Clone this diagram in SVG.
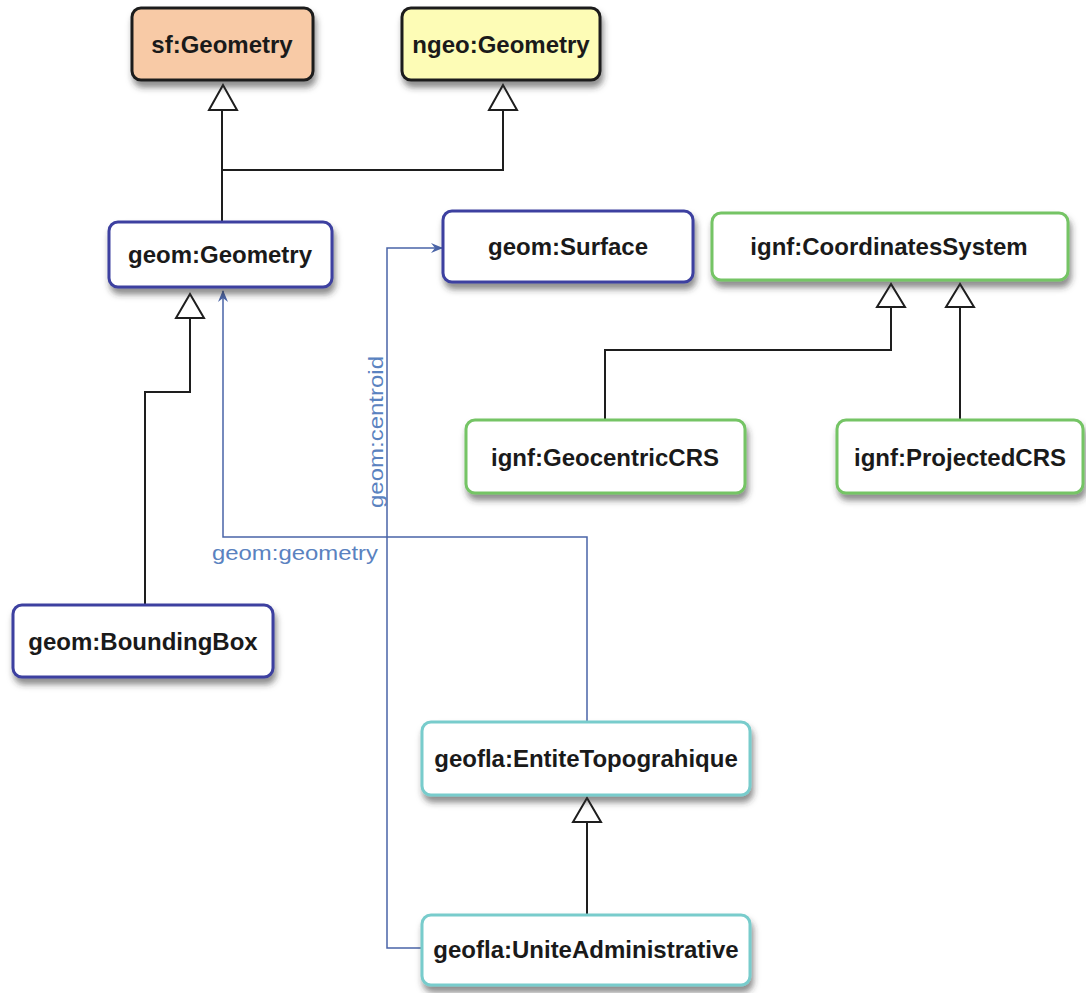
<svg xmlns="http://www.w3.org/2000/svg" width="1086" height="993" viewBox="0 0 1086 993">
<style>
.node rect{stroke-width:3;}
.node text{font-family:"Liberation Sans",Arial,sans-serif;font-weight:bold;font-size:24px;fill:#1a1a1a;text-anchor:middle;}
.blk rect{stroke:#1e1e1e;}
.blue rect{stroke:#3c41a0;fill:#fff;}
.green rect{stroke:#74c465;fill:#fff;}
.teal rect{stroke:#78cccc;fill:#fff;}
.gen{fill:none;stroke:#1e1e1e;stroke-width:2;}
.tri{fill:#fff;stroke:#1e1e1e;stroke-width:2;}
.assoc{fill:none;stroke:#4a64a8;stroke-width:1.5;}
.lbl{font-family:"Liberation Sans",Arial,sans-serif;font-size:21px;fill:#5a82c0;}
</style>
<defs>
<filter id="sh" x="-10%" y="-20%" width="125%" height="160%">
<feDropShadow dx="2" dy="6" stdDeviation="3" flood-color="#333" flood-opacity="0.55"/>
</filter>
<marker id="arr" viewBox="0 0 12 12" refX="11" refY="6" markerWidth="12" markerHeight="12" markerUnits="userSpaceOnUse" orient="auto">
<path d="M0,1 L12,6 L0,11 L4,6 Z" fill="#4a64a8"/>
</marker>
</defs>
<rect width="1086" height="993" fill="#fff"/>

<g id="connectors">
<path class="gen" d="M222,222 V110"/>
<path class="gen" d="M222,170 H503 V110"/>
<path class="gen" d="M145,605 V392 H190 V318"/>
<path class="gen" d="M605,420 V350 H891 V307"/>
<path class="gen" d="M960,420 V307"/>
<path class="gen" d="M587,915 V822"/>
<polygon class="tri" points="223,85 209,110 237,110"/>
<polygon class="tri" points="503,85 489,110 517,110"/>
<polygon class="tri" points="190,294 176,318 204,318"/>
<polygon class="tri" points="891,284 877,307 905,307"/>
<polygon class="tri" points="960,284 946,307 974,307"/>
<polygon class="tri" points="587,798 573,822 601,822"/>
<path class="assoc" d="M587,722 V537 H223 V291" marker-end="url(#arr)"/>
<path class="assoc" d="M422,948 H387 V248 H442" marker-end="url(#arr)"/>
<text class="lbl" x="212" y="560" textLength="166" lengthAdjust="spacingAndGlyphs">geom:geometry</text>
<text class="lbl" transform="translate(383,508) rotate(-90)" x="0" y="0" textLength="152" lengthAdjust="spacingAndGlyphs">geom:centroid</text>
</g>

<g id="sf-Geometry" class="node blk"><rect x="132" y="8" width="181" height="72" rx="9" fill="#f8caa6" filter="url(#sh)"/><text x="222" y="53">sf:Geometry</text></g>
<g id="ngeo-Geometry" class="node blk"><rect x="402" y="8" width="198" height="72" rx="9" fill="#fdfcb6" filter="url(#sh)"/><text x="501" y="53">ngeo:Geometry</text></g>
<g id="geom-Geometry" class="node blue"><rect x="109" y="222" width="223" height="65" rx="9" filter="url(#sh)"/><text x="220" y="263">geom:Geometry</text></g>
<g id="geom-Surface" class="node blue"><rect x="443" y="211" width="250" height="71" rx="9" filter="url(#sh)"/><text x="568" y="255">geom:Surface</text></g>
<g id="ignf-CoordinatesSystem" class="node green"><rect x="712" y="213" width="356" height="67" rx="9" filter="url(#sh)"/><text x="889" y="255">ignf:CoordinatesSystem</text></g>
<g id="ignf-GeocentricCRS" class="node green"><rect x="466" y="420" width="279" height="73" rx="9" filter="url(#sh)"/><text x="605" y="466">ignf:GeocentricCRS</text></g>
<g id="ignf-ProjectedCRS" class="node green"><rect x="837" y="420" width="246" height="73" rx="9" filter="url(#sh)"/><text x="960" y="466">ignf:ProjectedCRS</text></g>
<g id="geom-BoundingBox" class="node blue"><rect x="13" y="605" width="260" height="72" rx="9" filter="url(#sh)"/><text x="143" y="650">geom:BoundingBox</text></g>
<g id="geofla-EntiteTopograhique" class="node teal"><rect x="422" y="722" width="328" height="73" rx="9" filter="url(#sh)"/><text x="586" y="767">geofla:EntiteTopograhique</text></g>
<g id="geofla-UniteAdministrative" class="node teal"><rect x="422" y="915" width="328" height="70" rx="9" filter="url(#sh)"/><text x="586" y="958">geofla:UniteAdministrative</text></g>
</svg>
